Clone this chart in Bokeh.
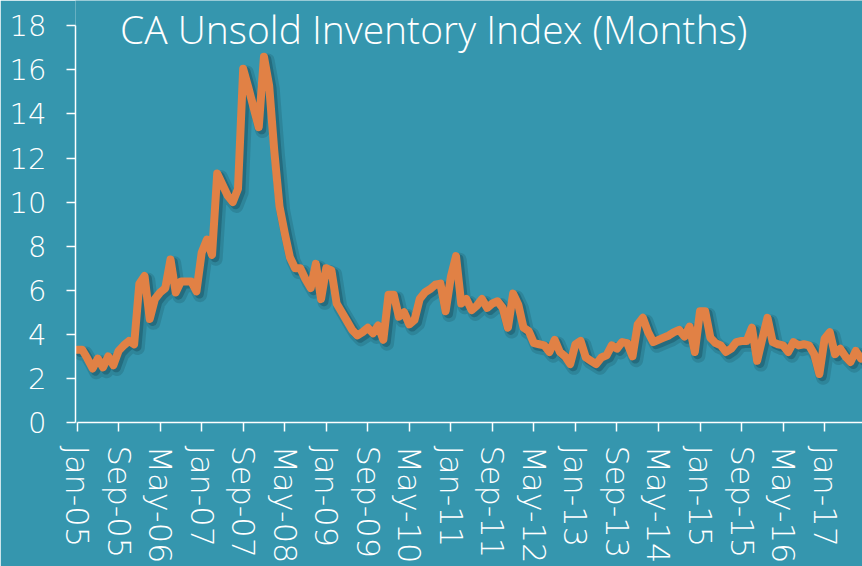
from bokeh.plotting import figure
from bokeh.models import ColumnDataSource, FixedTicker, Label, Range1d
from bokeh.transform import dodge
from bokeh.embed import file_html
from bokeh.resources import INLINE

# Monthly CA Unsold Inventory Index, Jan-2005 onward (months)
inventory = [
    3.3, 3.3, 2.9, 2.45, 2.9, 2.5, 3.0, 2.6, 3.25, 3.5, 3.7, 3.55,          # 2005
    6.3, 6.65, 4.7, 5.6, 5.9, 6.1, 7.4, 5.9, 6.4, 6.4, 6.4, 5.95,           # 2006
    7.7, 8.3, 7.6, 11.3, 10.8, 10.3, 10.0, 10.6, 16.05, 15.2, 14.3, 13.4,   # 2007
    16.6, 15.3, 12.3, 9.8, 8.6, 7.5, 7.0, 7.0, 6.5, 6.1, 7.2, 5.6,          # 2008
    7.0, 6.9, 5.4, 5.0, 4.6, 4.2, 3.95, 4.1, 4.3, 4.05, 4.4, 3.75,          # 2009
    5.8, 5.8, 4.8, 5.0, 4.45, 4.65, 5.6, 5.9, 6.05, 6.25, 6.3, 5.05,        # 2010
    6.6, 7.55, 5.4, 5.6, 5.1, 5.3, 5.6, 5.2, 5.4, 5.5, 5.2, 4.3,            # 2011
    5.85, 5.35, 4.3, 4.15, 3.6, 3.55, 3.5, 3.2, 3.75, 3.2, 3.0, 2.65,       # 2012
    3.55, 3.7, 2.95, 2.8, 2.65, 2.95, 3.05, 3.5, 3.35, 3.65, 3.6, 3.0,      # 2013
    4.45, 4.75, 4.1, 3.65, 3.75, 3.85, 3.95, 4.1, 4.2, 3.9, 4.35, 3.2,      # 2014
    5.05, 5.05, 3.85, 3.6, 3.5, 3.2, 3.35, 3.65, 3.7, 3.7, 4.3, 2.8,        # 2015
    3.8, 4.75, 3.65, 3.55, 3.5, 3.2, 3.65, 3.5, 3.55, 3.5, 3.1, 2.2,        # 2016
    3.8, 4.1, 3.1, 3.35, 3.0, 2.75, 3.25, 2.9,                              # 2017
]
month_index = list(range(len(inventory)))

tick_labels = ["Jan-05", "Sep-05", "May-06", "Jan-07", "Sep-07", "May-08",
               "Jan-09", "Sep-09", "May-10", "Jan-11", "Sep-11", "May-12",
               "Jan-13", "Sep-13", "May-14", "Jan-15", "Sep-15", "May-16",
               "Jan-17"]
tick_positions = [i * 8 for i in range(len(tick_labels))]
y_ticks = list(range(0, 19, 2))

title_text = "CA Unsold Inventory Index (Months)"

BG = "#3596ae"
LINE = "#e18145"
WHITE = "#ffffff"
FONT = "DejaVu Sans ExtraLight, DejaVu Sans Light, DejaVu Sans"
TITLE_FONT = "Open Sans Light, Open Sans"

src = ColumnDataSource(dict(m=month_index, v=inventory))

p = figure(width=862, height=566, output_backend="svg", toolbar_location=None,
           x_range=Range1d(-0.3, 151.3), y_range=Range1d(0, 19.15),
           min_border_left=75, min_border_right=0, min_border_top=0,
           min_border_bottom=134)
p.background_fill_color = BG
p.border_fill_color = BG
p.outline_line_color = None
p.grid.visible = False

# soft drop shadow
p.line(x=dodge("m", 0.7, range=p.x_range), y=dodge("v", -0.17, range=p.y_range),
       source=src, line_color="#123f4c", line_alpha=0.2, line_width=14,
       line_join="round", line_cap="round")
p.line(x=dodge("m", 0.55, range=p.x_range), y=dodge("v", -0.12, range=p.y_range),
       source=src, line_color="#123f4c", line_alpha=0.35, line_width=9,
       line_join="round", line_cap="round")
# main line
p.line("m", "v", source=src, line_color=LINE, line_width=8,
       line_join="round", line_cap="round")

# axes
for ax in (p.xaxis[0], p.yaxis[0]):
    ax.axis_line_color = WHITE
    ax.axis_line_width = 1.5
    ax.major_tick_line_color = WHITE
    ax.major_tick_line_width = 1.5
    ax.major_tick_out = 9
    ax.major_tick_in = 0
    ax.minor_tick_line_color = None
    ax.major_label_text_color = WHITE
    ax.major_label_text_font = FONT

p.xaxis.ticker = FixedTicker(ticks=tick_positions)
p.xaxis.major_label_overrides = {pos: lab for pos, lab in zip(tick_positions, tick_labels)}
p.xaxis.major_label_orientation = "vertical"
p.xaxis.major_label_standoff = 14
p.xaxis.major_label_text_font_size = "32px"
p.xaxis.bounds = (0, 151.3)

p.yaxis.ticker = FixedTicker(ticks=y_ticks)
p.yaxis.major_label_standoff = 20
p.yaxis.major_label_text_font_size = "29px"
p.yaxis.bounds = (0, 18)

p.add_layout(Label(x=68.7, y=17.88, text=title_text, text_color=WHITE,
                   text_font=TITLE_FONT, text_font_size="39px",
                   text_align="center", text_baseline="middle"))

open("out.html", "w").write(file_html(p, INLINE))
